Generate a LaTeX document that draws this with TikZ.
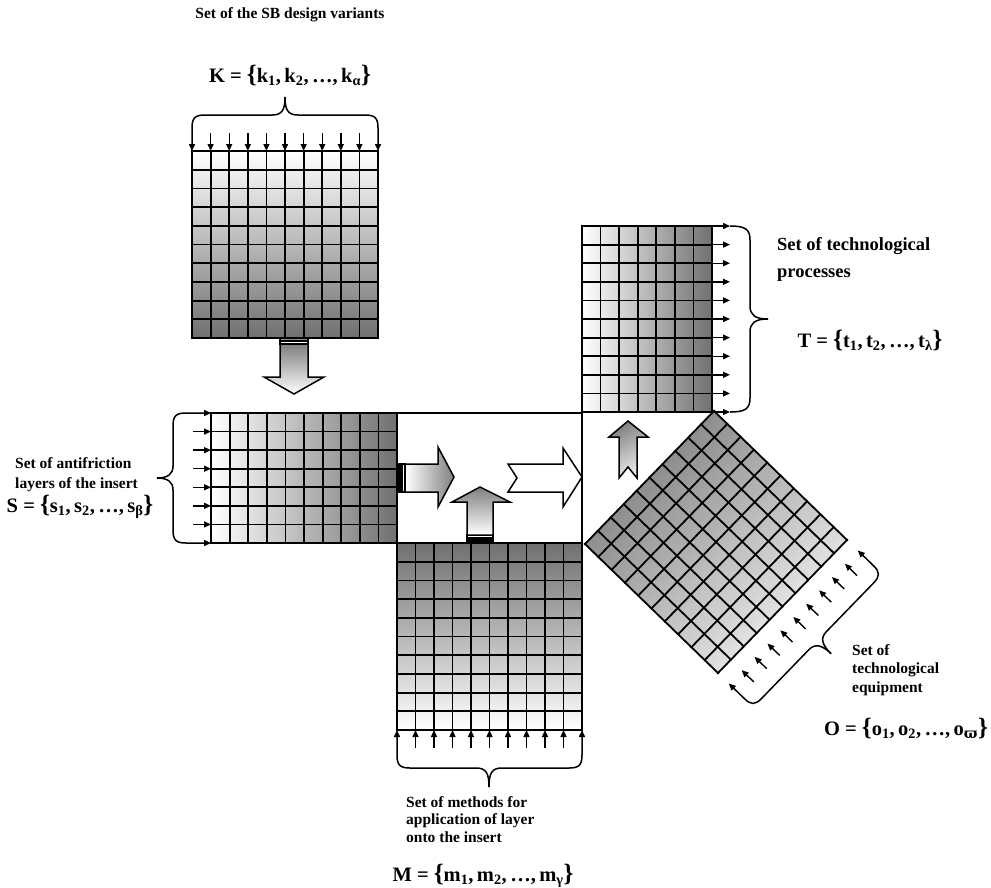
\documentclass[tikz,border=0pt]{standalone}
\usepackage{fontspec}
\setmainfont{Liberation Serif}
\newfontfamily\dvs{DejaVu Serif}
\usetikzlibrary{arrows.meta}
\definecolor{dk}{RGB}{112,112,112}
\definecolor{dmid}{RGB}{125,125,125}
\definecolor{lt}{RGB}{242,242,242}
\newcommand\bbr{\fontsize{25}{25}\selectfont}
\newcommand\gridL[6]{%
  \foreach \i in {0,...,#5}{\draw[gl] ({#1+(#3-#1)*\i/#5},#2) -- ({#1+(#3-#1)*\i/#5},#4);}
  \foreach \j in {0,...,#6}{\draw[gl] (#1,{#2+(#4-#2)*\j/#6}) -- (#3,{#2+(#4-#2)*\j/#6});}
}
\begin{document}
\begin{tikzpicture}[x=1pt,y=-1pt,
  gl/.style={line width=1.8pt,line cap=rect},
  al/.style={line width=1.5pt,line join=miter},
  ar/.style={line width=1.4pt,-{Triangle[length=7pt,width=6pt]}},
  br/.style={line width=1.5pt,{Triangle[length=7pt,width=6pt]}-{Triangle[length=7pt,width=6pt]}},
  brn/.style={line width=1.5pt},
  txt/.style={font=\bfseries\fontsize{15.5}{18}\selectfont,inner sep=0,anchor=base west},
  big/.style={font=\bfseries\fontsize{18.5}{22}\selectfont,inner sep=0,anchor=base west},
  fml/.style={font=\bfseries\fontsize{20.5}{24}\selectfont,inner sep=0,anchor=base}]
\useasboundingbox (0,0) rectangle (991,887);

% ---------- K grid (top) ----------
\shade[top color=white,bottom color=dk] (192,151) rectangle (378,338);
\gridL{192}{151}{378}{338}{10}{10}
\foreach \i in {1,...,9}{\draw[ar] ({192+18.6*\i},133) -- ({192+18.6*\i},151);}
\draw[br] (192,151) -- (192,128) .. controls (192,118) and (195,115) .. (205,115) -- (272,115)
  .. controls (282,115) and (285,110) .. (285,97) .. controls (285,110) and (288,115) .. (298,115)
  -- (365,115) .. controls (375,115) and (378,118) .. (378,128) -- (378,151);

% ---------- S grid (left) ----------
\shade[left color=white,right color=dk] (211,413) rectangle (397,543);
\gridL{211}{413}{397}{543}{10}{7}
\foreach \j in {1,...,6}{\draw[ar] (193,{413+130/7*\j}) -- (211,{413+130/7*\j});}
\draw[br] (211,413) -- (186,413) .. controls (176,413) and (173,416) .. (173,426) -- (173,466)
  .. controls (173,474) and (168,478) .. (157,478) .. controls (168,478) and (173,482) .. (173,490)
  -- (173,530) .. controls (173,540) and (176,543) .. (186,543) -- (211,543);

% ---------- M grid (bottom) ----------
\shade[top color=dk,bottom color=white] (397,543) rectangle (582,730);
\gridL{397}{543}{582}{730}{10}{10}
\foreach \i in {1,...,9}{\draw[ar] ({397+18.5*\i},748) -- ({397+18.5*\i},730);}
\draw[br] (397,730) -- (397,755) .. controls (397,765) and (400,768) .. (410,768) -- (476,768)
  .. controls (486,768) and (489,773) .. (489,787) .. controls (489,773) and (492,768) .. (502,768)
  -- (569,768) .. controls (579,768) and (582,765) .. (582,755) -- (582,730);

% ---------- T grid (top right) ----------
\shade[left color=white,right color=dk] (582,226) rectangle (712,412);
\gridL{582}{226}{712}{412}{7}{10}
\foreach \j in {0,...,10}{\draw[ar] (712,{226+18.6*\j}) -- (730,{226+18.6*\j});}
\draw[brn] (730,226) .. controls (745,226) and (750,229) .. (750,240) -- (750,306)
  .. controls (750,315) and (755,319) .. (768,319) .. controls (755,319) and (750,323) .. (750,332)
  -- (750,398) .. controls (750,409) and (745,412) .. (730,412);

% ---------- central box ----------
\draw[gl] (397,413) -- (582,413) -- (582,543);

% ---------- O grid (diamond) ----------
\begin{scope}[shift={(718,673)},x={(0.6962pt,0.7178pt)},y={(0.7178pt,-0.6962pt)}]
  \coordinate (dB) at (0,0);
  \coordinate (dR) at (185.3,0);
  \coordinate (dT) at (185.3,-185.3);
  \coordinate (dL) at (0,-185.3);
\end{scope}
\shade[top color=dmid,bottom color=lt,shading angle=45] (dB) -- (dR) -- (dT) -- (dL) -- cycle;
\begin{scope}[shift={(718,673)},x={(0.6962pt,0.7178pt)},y={(0.7178pt,-0.6962pt)}]
  \foreach \i in {0,...,10}{
    \draw[gl] ({18.53*\i},0) -- ({18.53*\i},-185.3);
    \draw[gl] (0,{-18.53*\i}) -- (185.3,{-18.53*\i});}
  \foreach \i in {1,...,9}{\draw[ar] ({18.53*\i},32) -- ({18.53*\i},15);}
  \draw[br] (0,15) -- (0,37) .. controls (0,46) and (3,49) .. (12,49) -- (80,49)
    .. controls (89,49) and (92.6,55) .. (92.6,68) .. controls (92.6,55) and (96,49) .. (105,49)
    -- (173,49) .. controls (182,49) and (185.3,46) .. (185.3,37) -- (185.3,15);
\end{scope}

% ---------- block arrows ----------
% down arrow below K
\draw[al,fill=gray!90] (280,338) rectangle (308,341);
\draw[al,fill=white] (280,341) rectangle (308,344);
\shadedraw[al,top color=gray,middle color=white,bottom color=white]
  (280,344) -- (308,344) -- (308,377) -- (324,377) -- (294,394) -- (264,377) -- (280,377) -- cycle;
% striped right arrow from S
\draw[al,fill=black] (397,464) rectangle (402,492);
\draw[al,fill=white] (402,464) rectangle (405,492);
\shadedraw[al,left color=white,right color=gray]
  (405,464) -- (438,464) -- (438,447) -- (454,477) -- (438,507) -- (438,492) -- (405,492) -- cycle;
% striped up arrow from M
\draw[al,fill=black] (467,538) rectangle (493,543);
\draw[al,fill=white] (467,535) rectangle (493,538);
\shadedraw[al,top color=gray,bottom color=white]
  (467,535) -- (467,502) -- (452,502) -- (480,487) -- (510,502) -- (493,502) -- (493,535) -- cycle;
% notched white arrow
\draw[al,fill=white] (508,464) -- (563,464) -- (563,448) -- (582,477) -- (563,507) -- (563,492)
  -- (508,492) -- (517,478) -- cycle;
% small notched up arrow
\shadedraw[al,top color=gray,bottom color=white!88!gray,shading angle=30]
  (619,478) -- (619,437) -- (609,437) -- (628,421) -- (648,437) -- (637,437) -- (637,478) -- (628,467) -- cycle;

% ---------- texts ----------
\node[txt,anchor=base] (kt) at (290,18) {Set of the SB design variants};
\node[fml] (kf) at (290,82) {K = {\bbr\{}k\textsubscript{1},\,k\textsubscript{2},\,\dots,\,k\textsubscript{α}{\bbr\}}};

\node[big] (tt1) at (777,250) {Set of technological};
\node[big] (tt2) at (777,277) {processes};
\node[fml] (tf) at (870,347) {T = {\bbr\{}t\textsubscript{1},\,t\textsubscript{2},\,\dots,\,t\textsubscript{λ}{\bbr\}}};

\node[txt] (st1) at (15,468) {Set of antifriction};
\node[txt] (st2) at (15,488) {layers of the insert};
\node[fml] (sf) at (80,512) {S = {\bbr\{}s\textsubscript{1},\,s\textsubscript{2},\,\dots,\,s\textsubscript{β}{\bbr\}}};

\node[txt] (ot1) at (852,655) {Set of};
\node[txt] (ot2) at (852,673) {technological};
\node[txt] (ot3) at (852,692) {equipment};
\node[fml] (of) at (906,735) {O = {\bbr\{}o\textsubscript{1},\,o\textsubscript{2},\,\dots,\,o\textsubscript{{\dvs ϖ}}{\bbr\}}};

\node[txt] (mt1) at (406,807) {Set of methods for};
\node[txt] (mt2) at (406,824) {application of layer};
\node[txt] (mt3) at (406,842) {onto the insert};
\node[fml] (mf) at (483,881) {M = {\bbr\{}m\textsubscript{1},\,m\textsubscript{2},\,\dots,\,m\textsubscript{γ}{\bbr\}}};
\end{tikzpicture}
\end{document}
